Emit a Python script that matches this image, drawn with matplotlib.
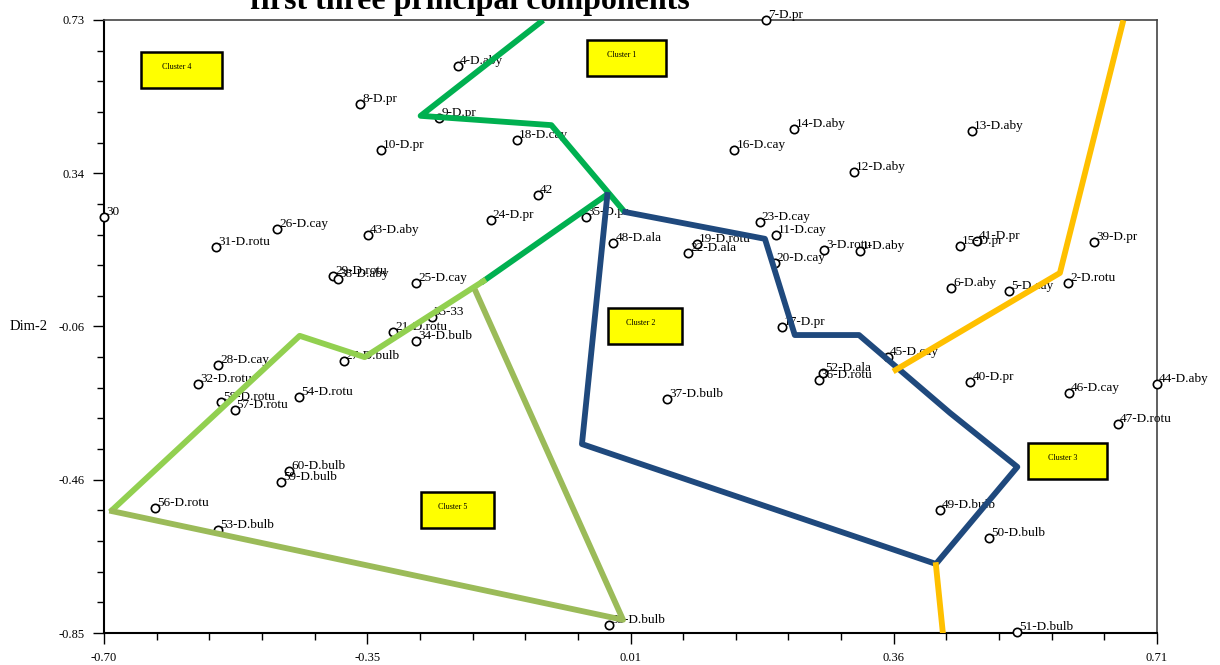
import numpy as np
import matplotlib.pyplot as plt
from matplotlib.patches import Rectangle
from matplotlib.ticker import AutoMinorLocator

plt.rcParams['font.family'] = ['Liberation Serif', 'DejaVu Serif']

# individuals on the first two dimensions
labels = ['1-D.aby', '2-D.rotu', '3-D.rotu', '4-D.aby', '5-D.cay', '6-D.aby', '7-D.pr',
          '8-D.pr', '9-D.pr', '10-D.pr', '11-D.cay', '12-D.aby', '13-D.aby', '14-D.aby',
          '15-D.pr', '16-D.cay', '17-D.pr', '18-D.cay', '19-D.rotu', '20-D.cay',
          '21-D.rotu', '22-D.ala', '23-D.cay', '24-D.pr', '25-D.cay', '26-D.cay',
          '27-D.bulb', '28-D.cay', '29-D.rotu', '30', '31-D.rotu', '32-D.rotu', '35-33',
          '34-D.bulb', '35-D.pr', '36-D.rotu', '37-D.bulb', '38-D.aby', '39-D.pr',
          '40-D.pr', '41-D.pr', '42', '43-D.aby', '44-D.aby', '45-D.cay', '46-D.cay',
          '47-D.rotu', '48-D.ala', '49-D.bulb', '50-D.bulb', '51-D.bulb', '52-D.ala',
          '53-D.bulb', '54-D.rotu', '55-D.bulb', '56-D.rotu', '57-D.rotu', '58-D.rotu',
          '59-D.bulb', '60-D.bulb']
dim1 = [0.312, 0.591, 0.264, -0.226, 0.512, 0.434, 0.186,
        -0.357, -0.251, -0.329, 0.200, 0.304, 0.462, 0.224,
        0.446, 0.144, 0.208, -0.147, 0.094, 0.198,
        -0.313, 0.082, 0.178, -0.182, -0.282, -0.468,
        -0.379, -0.547, -0.393, -0.700, -0.550, -0.574, -0.261,
        -0.282, -0.055, 0.257, 0.054, -0.387, 0.626,
        0.460, 0.469, -0.119, -0.347, 0.710, 0.350, 0.592,
        0.658, -0.018, 0.419, 0.485, 0.523, 0.263,
        -0.547, -0.439, -0.024, -0.632, -0.525, -0.543,
        -0.463, -0.452]
dim2 = [0.135, 0.052, 0.137, 0.611, 0.031, 0.039, 0.730,
        0.513, 0.477, 0.395, 0.176, 0.338, 0.444, 0.449,
        0.148, 0.395, -0.061, 0.421, 0.153, 0.104,
        -0.074, 0.129, 0.209, 0.215, 0.052, 0.191,
        -0.149, -0.159, 0.070, 0.222, 0.145, -0.208, -0.036,
        -0.097, 0.222, -0.198, -0.247, 0.062, 0.158,
        -0.203, 0.160, 0.279, 0.176, -0.208, -0.139, -0.231,
        -0.311, 0.155, -0.533, -0.605, -0.847, -0.180,
        -0.585, -0.242, -0.829, -0.528, -0.275, -0.255,
        -0.461, -0.432]

# cluster borders
green_a_x = [-0.115, -0.276, -0.101, -0.005]
green_a_y = [0.725, 0.483, 0.459, 0.240]
green_b_x = [-0.025, -0.192]
green_b_y = [0.282, 0.057]
light_x = [-0.192, -0.351, -0.438, -0.689]
light_y = [0.057, -0.139, -0.084, -0.533]
olive_x = [-0.202, -0.005, -0.689]
olive_y = [0.029, -0.816, -0.536]
blue_x = [-0.026, -0.060, 0.414, 0.523, 0.433, 0.311, 0.225, 0.185, -0.002]
blue_y = [0.279, -0.363, -0.672, -0.422, -0.283, -0.082, -0.082, 0.166, 0.235]
orange_a_x = [0.664, 0.580, 0.360]
orange_a_y = [0.722, 0.078, -0.172]
orange_b_x = [0.414, 0.423]
orange_b_y = [-0.675, -0.845]

# cluster tags: text, x0, x1, y0, y1
tags = [('Cluster 1', -0.053, 0.053, 0.586, 0.678),
        ('Cluster 2', -0.025, 0.074, -0.105, -0.012),
        ('Cluster 3', 0.537, 0.643, -0.453, -0.360),
        ('Cluster 4', -0.650, -0.542, 0.555, 0.648),
        ('Cluster 5', -0.276, -0.178, -0.579, -0.487)]

xticklabels = ['-0.70', '-0.35', '0.01', '0.36', '0.71']
yticklabels = ['-0.85', '-0.46', '-0.06', '0.34', '0.73']

fig = plt.figure(figsize=(12.2, 6.65), dpi=100)
ax = fig.add_axes([104 / 1220, 1 - 633 / 665, 1053 / 1220, 613 / 665])

ax.plot(dim1, dim2, 'o', mfc='white', mec='black', ms=6, mew=1.2, clip_on=False, zorder=3)
for lab, x, y in zip(labels, dim1, dim2):
    ax.annotate(lab, (x, y), xytext=(2, 5), textcoords='offset pixels',
                ha='left', va='center', fontsize=9.5, zorder=4)

lw = 4.2
ax.plot(green_a_x, green_a_y, color='#00B050', lw=lw, zorder=5)
ax.plot(green_b_x, green_b_y, color='#00B050', lw=lw, zorder=5)
ax.plot(light_x, light_y, color='#92D050', lw=lw, zorder=5)
ax.plot(olive_x, olive_y, color='#9BBB59', lw=lw, zorder=5)
ax.plot(blue_x, blue_y, color='#1F497D', lw=lw, zorder=5)
ax.plot(orange_a_x, orange_a_y, color='#FFC000', lw=lw, zorder=5)
ax.plot(orange_b_x, orange_b_y, color='#FFC000', lw=lw, zorder=5)

for txt, x0, x1, y0, y1 in tags:
    ax.add_patch(Rectangle((x0, y0), x1 - x0, y1 - y0, fc='yellow', ec='black',
                           lw=1.8, zorder=6))
    ax.text(x0 + 0.44 * (x1 - x0), y1 - 0.42 * (y1 - y0), txt, fontsize=5.8,
            ha='center', va='center', zorder=7)

ax.set_xlim(-0.70, 0.71)
ax.set_ylim(-0.85, 0.73)
ax.set_xticks(np.linspace(-0.70, 0.71, 5))
ax.set_xticklabels(xticklabels)
ax.set_yticks(np.linspace(-0.85, 0.73, 5))
ax.set_yticklabels(yticklabels)
ax.xaxis.set_minor_locator(AutoMinorLocator(5))
ax.yaxis.set_minor_locator(AutoMinorLocator(5))
ax.tick_params(which='major', length=8, width=1, labelsize=9, pad=6)
ax.tick_params(which='minor', length=5, width=1)
ax.tick_params(top=False, right=False)

for s in ['left', 'bottom']:
    ax.spines[s].set_linewidth(1.5)
    ax.spines[s].set_color('black')
for s in ['top', 'right']:
    ax.spines[s].set_linewidth(1.2)
    ax.spines[s].set_color('#444444')

fig.text(29 / 1220, 1 - 327 / 665, 'Dim-2', fontsize=10.5, ha='center', va='center')
fig.text(470 / 1220, 1 - 9 / 665, 'first three principal components', fontsize=23,
         fontweight='bold', ha='center', va='baseline')

fig.savefig('out.png', dpi=100)
